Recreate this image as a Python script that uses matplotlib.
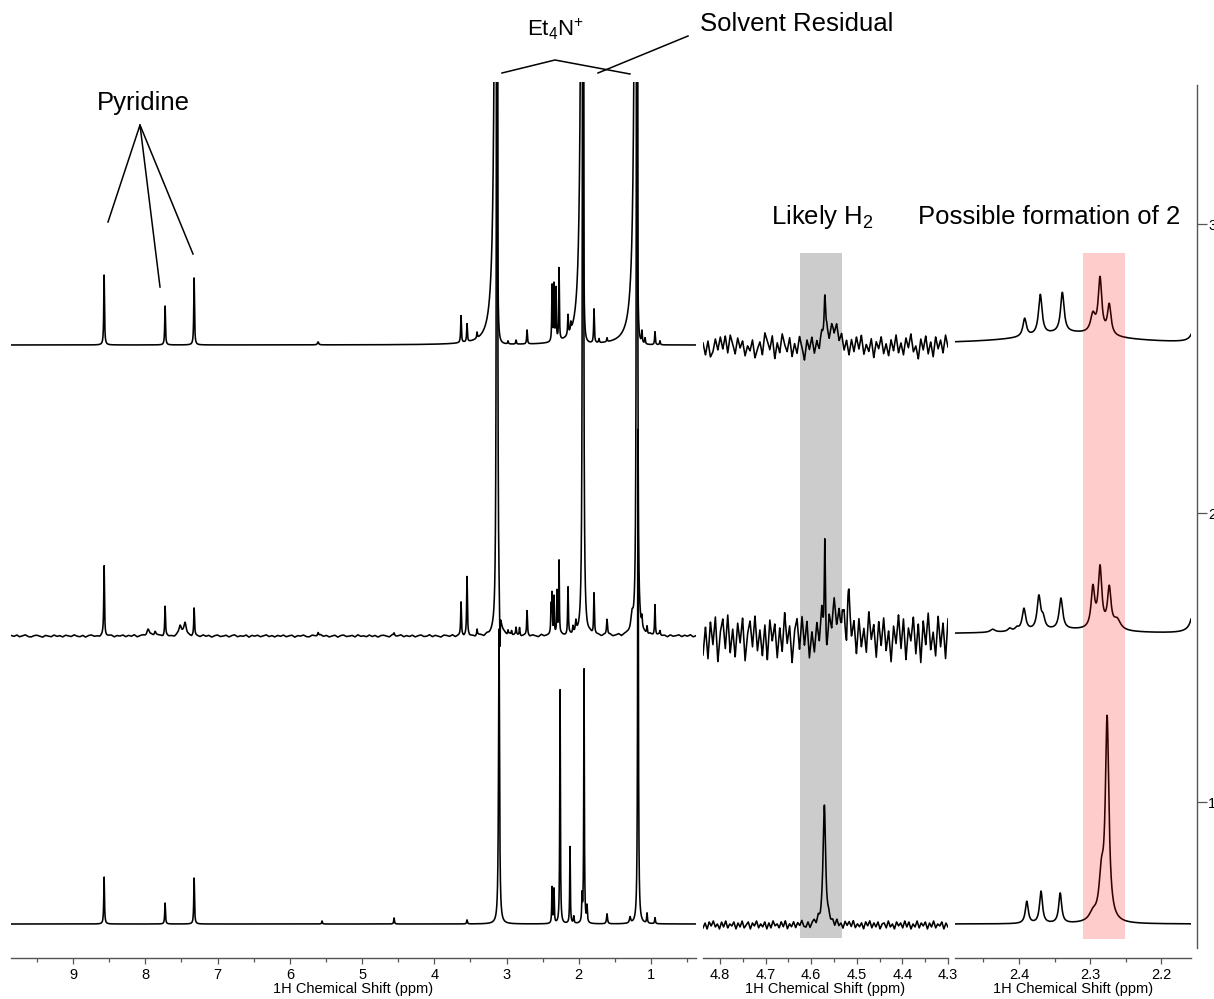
import numpy as np
import matplotlib
matplotlib.use('Agg')
import matplotlib.pyplot as plt
from matplotlib.lines import Line2D
from matplotlib.ticker import MultipleLocator, FormatStrFormatter

plt.rcParams['font.family'] = ['Liberation Sans', 'DejaVu Sans']
plt.rcParams['mathtext.fontset'] = 'custom'
plt.rcParams['mathtext.rm'] = 'Liberation Sans'
plt.rcParams['mathtext.it'] = 'Liberation Sans:italic'
plt.rcParams['mathtext.bf'] = 'Liberation Sans:bold'

# ------------------------------------------------------------------ data
# Peak lists: position (ppm), height (px above the
# trace baseline), half width at half maximum (ppm).

# Panel 1 : full spectrum, top trace (left/high-ppm wings are broader)
full_top_ppm = [8.571, 7.727, 7.325, 5.609, 3.630, 3.547, 3.408, 3.132, 2.979, 2.868,
                2.716, 2.370, 2.343, 2.315, 2.273, 2.149, 2.110, 1.941, 1.789, 1.720,
                1.609, 1.194, 1.125, 1.083, 0.945, 0.876]
full_top_height = [70, 39, 67, 3, 27, 18, 6, 6000, 3, 4,
                   14, 56, 56, 52, 72, 20, 8, 6000, 34, 4,
                   4, 6000, 12, 6, 13, 4]
full_top_hwhm_right = [0.006, 0.006, 0.006, 0.01, 0.006, 0.006, 0.006, 0.0015, 0.006, 0.006,
                       0.006, 0.005, 0.005, 0.005, 0.005, 0.006, 0.006, 0.0015, 0.006, 0.006,
                       0.006, 0.0015, 0.006, 0.006, 0.006, 0.006]
full_top_hwhm_left = [0.006, 0.006, 0.006, 0.01, 0.006, 0.006, 0.006, 0.0092, 0.006, 0.006,
                      0.006, 0.005, 0.005, 0.005, 0.005, 0.006, 0.006, 0.0084, 0.006, 0.006,
                      0.006, 0.0095, 0.006, 0.006, 0.006, 0.006]

# Panel 1 : middle trace
full_mid_ppm = [8.571, 7.962, 7.865, 7.727, 7.519, 7.450, 7.325, 5.609, 4.557, 3.630,
                3.547, 3.408, 3.132, 3.090, 2.979, 2.930, 2.868, 2.820, 2.716, 2.384,
                2.370, 2.343, 2.301, 2.273, 2.149, 2.080, 2.040, 1.941, 1.789, 1.609,
                1.263, 1.194, 1.125, 1.055, 0.945, 0.876]
full_mid_height = [70, 7, 5, 29, 10, 13, 27, 4, 3, 33,
                   58, 6, 3000, -40, 4, 4, 7, 8, 24, 28,
                   40, 38, 43, 74, 48, 8, 10, 3000, 41, 16,
                   16, 3000, 10, 8, 31, 4]
full_mid_hwhm = [0.006, 0.02, 0.015, 0.006, 0.02, 0.02, 0.006, 0.01, 0.01, 0.006,
                 0.006, 0.006, 0.0042, 0.003, 0.006, 0.006, 0.006, 0.006, 0.006, 0.005,
                 0.005, 0.005, 0.005, 0.005, 0.006, 0.008, 0.008, 0.0042, 0.006, 0.008,
                 0.02, 0.0042, 0.006, 0.006, 0.006, 0.006]
full_mid_noise = [
    0.6, -0.4, 1.0, -0.8, 0.2, 1.2, -0.6, -1.0, 0.4, 0.8, -0.2, -1.2, 0.6, 0.0, -0.8, 1.0, -0.4, 0.4, -1.0, 0.8,
    0.2, -0.6, 1.2, -0.2, -0.8, 0.6, -1.2, 0.4, 1.0, -0.4, 0.0, -0.8, 1.2, -0.6, 0.2, 0.8, -1.0, 0.4, -0.2, 1.0,
    -0.8, 0.6, -0.4, 1.2, -1.0, 0.2, 0.8, -0.6, -0.2, 1.0, -1.2, 0.4, 0.6, -0.8, 1.0, -0.4, 0.0, -1.0, 0.8, -0.2,
    1.2, -0.6, 0.4, -1.0, 0.8, 0.0, -0.8, 1.0, -0.4, 0.6, -1.2, 0.2, 1.0, -0.6, -0.2, 0.8, -1.0, 0.4, 1.2, -0.8,
    0.2, -0.4, 1.0, -1.2, 0.6, -0.2, 0.8, -0.8, 0.0, 1.2, -0.6, 0.4, -1.0, 0.6, -0.4, 1.0, -0.8, 0.2, 0.8, -1.2,
    0.4, -0.2, 1.0, -0.6, -1.0, 0.8, 0.2, -0.8, 1.2, -0.4, 0.6, -1.0, 0.0, 0.8, -1.2, 0.4, 1.0, -0.6, -0.2, 0.6,
    -1.0, 1.2, -0.4, 0.2, -0.8, 1.0, -0.6, 0.6, -1.2, 0.4, 0.8, -0.2, -1.0, 1.0, -0.4, 0.0, 1.2, -0.8, 0.4, -0.6,
    0.8, -1.0, 0.2, 1.0, -0.6, -0.4, 1.2, -0.8, 0.6, -0.2, -1.2, 0.8, 0.4, -0.6, 1.0, -1.0, 0.2, 0.6, -0.8, 1.2,
    -0.4, 0.0, -1.0, 0.8, 0.4, -1.2, 1.0, -0.2, 0.6, -0.8, 1.2, -0.6, 0.2, -1.0, 0.8, -0.4, 1.0, 0.0, -0.8, 0.4,
    1.0, -0.8, 0.6, -0.2, -1.2, 1.2, -0.4, 0.2, 0.8, -1.0, 0.4, -0.6, 1.0, -0.2, -0.8, 0.6, -1.2, 1.0, 0.0, -0.4,
    0.8, -1.0, 1.2, -0.6, 0.2, 0.4, -1.0, 0.6, -0.2, 1.0, -0.8, 0.0, 1.2, -1.2, 0.4, 0.8, -0.6, -0.2, 1.0, -0.8,
    0.2, 0.6, -1.0, 1.0, -0.4, -0.8, 1.2, -0.2, 0.4, -1.2, 0.8, -0.6, 0.0, 1.0, -0.8, 0.6, -0.4, 1.2, -1.0, 0.2]

# Panel 1 : bottom trace
full_bot_ppm = [8.571, 7.727, 7.325, 5.554, 4.557, 3.547, 3.104, 2.370, 2.343, 2.259,
                2.121, 2.070, 1.955, 1.927, 1.886, 1.609, 1.290, 1.180, 1.055, 0.945]
full_bot_height = [47, 21, 46, 3, 6, 4, 295, 36, 34, 234,
                   77, 7, 25, 254, 16, 10, 6, 495, 10, 6]
full_bot_hwhm = [0.006, 0.006, 0.006, 0.006, 0.006, 0.006, 0.008, 0.005, 0.005, 0.005,
                 0.005, 0.006, 0.005, 0.005, 0.006, 0.008, 0.01, 0.006, 0.006, 0.006]

# Panel 2 : 4.3 - 4.84 ppm (H2 region)
h2_top_ppm = [4.580, 4.570, 4.553]
h2_top_height = [8, 45, 20]
h2_top_hwhm = [0.004, 0.002, 0.012]
h2_top_noise = [3, -9, 5, -11, -6, 7, -4, 9, -3, 10, -7, 11, 2, -8, 8, -2, 5, -10, 0, -5,
                6, -12, -3, 4, -9, 13, 5, -4, 10, -13, 3, -7, 12, 1, -6, 8, -11, 2, -8, 9,
                -2, -15, 5, -5, 7, -10, 1, -13, 4, -4, 6, -9, 2, -6, 9, -3, 7, -8, 3, -11,
                5, -7, 8, -4, 10, -9, 1, -6, 7, -12, 4, -3, 9, -8, 2, -10, 6, -5, 11, -7,
                3, -9, 8, -2, 12, -6, 0, -13, 7, -4, 10, -8, 4, -11, 9, -3, 6, -7, 11, -1]

h2_mid_ppm = [4.570, 4.551, 4.532, 4.519]
h2_mid_height = [115, 22, 30, 35]
h2_mid_hwhm = [0.0015, 0.010, 0.003, 0.003]
h2_mid_noise = [-18, 10, -22, 15, -8, 20, -25, 5, 18, -12, 22, -16, 8, -20, 14, -6, 19, -24, 3, 16,
                -10, 21, -14, 7, -19, 12, -23, 17, -4, 13, -21, 9, -15, 24, -7, 11, -26, 6, 18, -13,
                20, -9, 15, -22, 4, -17, 12, -8, 23, -20, -28, 8, -12, 16, -5, 14, -18, 10, -24, 21,
                -6, 13, -19, 17, -11, 8, -16, 25, -3, 12, -21, 15, -9, 19, -14, 6, -25, 11, -7, 22,
                -12, 18, -23, 9, -4, 20, -17, 13, -26, 16, -8, 24, -13, 5, -19, 21, -10, 14, -22, 18]

h2_bot_ppm = [4.571]
h2_bot_height = [118]
h2_bot_hwhm = [0.0035]
h2_bot_noise = [-3, 2, -4, 3, -1, 4, -2, 1, -4, 3, -2, 4, -3, 1, -1, 3, -4, 2, -2, 4,
                -3, 0, 3, -4, 2, -1, 4, -3, 1, -2, 3, -4, 2, -3, 4, -1, 1, -3, 3, -2,
                4, -4, 1, -2, 3, -3, 2, -1, 4, -2, -3, 2, -4, 1, 3, -2, 4, -3, 0, 2,
                -4, 3, -1, 2, -3, 4, -2, 1, -4, 3, -1, 3, -2, 4, -3, 1, -2, 2, -4, 3,
                -1, 4, -3, 2, -2, 3, -4, 1, 2, -3, 4, -2, 1, -4, 3, -1, 2, -3, 4, -2,
                3, -4, 1, -2, 4, -3, 2, -1, 3, -4, 2, -2, 4, -3, 1, -1, 3, -4, 2, -2]

# Panel 3 : 2.16 - 2.49 ppm
z_top_ppm = [2.392, 2.370, 2.339, 2.296, 2.286, 2.273, 2.330, 2.149]
z_top_height = [18, 40, 40, 18, 55, 30, 11, 160]
z_top_hwhm = [0.003, 0.003, 0.003, 0.004, 0.003, 0.003, 0.08, 0.002]

z_mid_ppm = [2.437, 2.413, 2.403, 2.393, 2.372, 2.366, 2.341, 2.296, 2.286, 2.273, 2.262, 2.330, 2.149]
z_mid_height = [3, 3, 3, 22, 33, 10, 31, 40, 60, 40, 10, 4, 300]
z_mid_hwhm = [0.004, 0.003, 0.003, 0.003, 0.003, 0.003, 0.003, 0.003, 0.003, 0.003, 0.006, 0.08, 0.002]

z_bot_ppm = [2.389, 2.369, 2.342, 2.296, 2.284, 2.276]
z_bot_height = [22, 32, 30, 8, 40, 200]
z_bot_hwhm = [0.0025, 0.0025, 0.0025, 0.006, 0.004, 0.003]

# highlighted regions (ppm)
h2_band = (4.625, 4.532)
product_band = (2.310, 2.251)

# axis ranges and ticks
full_range = (9.86, 0.377)
h2_range = (4.837, 4.300)
z_range = (2.490, 2.158)
stack_ticks = [1, 2, 3]

# ------------------------------------------------------------------ helpers
W, H = 1214, 999


def lineshape(x, pos, hgt, wl, wr=None):
    if wr is None:
        wr = wl
    y = np.zeros_like(x)
    for p, h, a, b in zip(pos, hgt, wl, wr):
        d = x - p
        w = np.where(d > 0, a, b)
        y += h / (1.0 + (d / w) ** 2)
    return y


def noise_on(x, rng, vals):
    nx = np.linspace(rng[0], rng[1], len(vals))
    return np.interp(x, nx[::-1], np.asarray(vals, float)[::-1])


def fbox(x0, y0, x1, y1):
    return [x0 / W, 1 - y1 / H, (x1 - x0) / W, (y1 - y0) / H]


def fx(x):
    return x / W


def fy(y):
    return 1 - y / H


fig = plt.figure(figsize=(W / 100, H / 100), dpi=100)

ax1 = fig.add_axes(fbox(11, 82, 696, 958))
ax2 = fig.add_axes(fbox(703, 82, 948, 958))
ax3 = fig.add_axes(fbox(955, 82, 1191, 958))

axis_col = '#555555'
for ax, rng in ((ax1, full_range), (ax2, h2_range), (ax3, z_range)):
    ax.set_xlim(*rng)
    ax.set_ylim(958, 82)
    ax.patch.set_visible(False)
    for s in ('top', 'left', 'right'):
        ax.spines[s].set_visible(False)
    ax.spines['bottom'].set_color(axis_col)
    ax.spines['bottom'].set_linewidth(1.0)
    ax.set_yticks([])
    ax.tick_params(axis='x', which='major', direction='out', length=4.5, width=0.9,
                   color=axis_col, labelsize=10.5, pad=2.5)
    ax.tick_params(axis='x', which='minor', direction='out', length=3, width=0.9,
                   color=axis_col)
    ax.set_xlabel('1H Chemical Shift (ppm)', fontsize=10.5, labelpad=0.5)

ax1.xaxis.set_major_locator(MultipleLocator(1))
ax1.xaxis.set_minor_locator(MultipleLocator(0.5))
ax1.xaxis.set_major_formatter(FormatStrFormatter('%d'))
for ax in (ax2, ax3):
    ax.xaxis.set_major_locator(MultipleLocator(0.1))
    ax.xaxis.set_minor_locator(MultipleLocator(0.05))
    ax.xaxis.set_major_formatter(FormatStrFormatter('%.1f'))

lw = 1.15
# ---- panel 1
x1 = np.linspace(full_range[0], full_range[1], 16000)
ax1.plot(x1, 345 - lineshape(x1, full_top_ppm, full_top_height,
                             full_top_hwhm_left, full_top_hwhm_right), color='black', lw=lw)
ax1.plot(x1, 636 - lineshape(x1, full_mid_ppm, full_mid_height, full_mid_hwhm)
         - noise_on(x1, full_range, full_mid_noise), color='black', lw=lw)
ax1.plot(x1, 924 - lineshape(x1, full_bot_ppm, full_bot_height, full_bot_hwhm),
         color='black', lw=lw)

# ---- panel 2
x2 = np.linspace(h2_range[0], h2_range[1], 4000)
ax2.plot(x2, 346 - lineshape(x2, h2_top_ppm, h2_top_height, h2_top_hwhm)
         - noise_on(x2, h2_range, h2_top_noise), color='black', lw=lw)
ax2.plot(x2, 637 - lineshape(x2, h2_mid_ppm, h2_mid_height, h2_mid_hwhm)
         - noise_on(x2, h2_range, h2_mid_noise), color='black', lw=lw)
ax2.plot(x2, 925 - lineshape(x2, h2_bot_ppm, h2_bot_height, h2_bot_hwhm)
         - noise_on(x2, h2_range, h2_bot_noise), color='black', lw=lw)
ax2.fill_between(list(h2_band), 938, 253, color='black', alpha=0.2, lw=0, zorder=3)

# ---- panel 3
x3 = np.linspace(z_range[0], z_range[1], 3000)
ax3.plot(x3, 344 - lineshape(x3, z_top_ppm, z_top_height, z_top_hwhm), color='black', lw=lw)
ax3.plot(x3, 634 - lineshape(x3, z_mid_ppm, z_mid_height, z_mid_hwhm), color='black', lw=lw)
ax3.plot(x3, 924 - lineshape(x3, z_bot_ppm, z_bot_height, z_bot_hwhm), color='black', lw=lw)
ax3.fill_between(list(product_band), 939, 253, color='red', alpha=0.2, lw=0, zorder=3)

# ---- stack scale on the right
axR = fig.add_axes(fbox(1185, 85, 1197, 948))
axR.patch.set_visible(False)
for s in ('top', 'left', 'bottom'):
    axR.spines[s].set_visible(False)
axR.spines['right'].set_color(axis_col)
axR.spines['right'].set_linewidth(1.0)
axR.set_xticks([])
axR.set_ylim(0.495, 3.481)
axR.yaxis.tick_right()
axR.set_yticks(stack_ticks)
axR.set_yticklabels([str(t) for t in stack_ticks])
axR.tick_params(axis='y', direction='out', length=7, width=0.9, color=axis_col,
                labelsize=10.5, pad=1)

# ---- annotations
fs = 18.5
fig.text(fx(143), fy(110), 'Pyridine', fontsize=fs, ha='center', va='baseline')
fig.text(fx(556), fy(36), r'Et$_4$N$^{+}$', fontsize=16, ha='center', va='baseline')
fig.text(fx(797), fy(31), 'Solvent Residual', fontsize=fs, ha='center', va='baseline')
fig.text(fx(822), fy(224), r'Likely H$_2$', fontsize=fs, ha='center', va='baseline')
fig.text(fx(1049), fy(224), 'Possible formation of 2', fontsize=fs, ha='center', va='baseline')


def fline(xs, ys):
    fig.add_artist(Line2D([fx(v) for v in xs], [fy(v) for v in ys],
                          transform=fig.transFigure, color='black', lw=1.1))


fline([108, 140, 160], [222, 125, 287])
fline([140, 193], [125, 254])
fline([502, 555, 630], [73, 60, 74])
fline([598, 688], [73, 36])

fig.savefig('out.png', dpi=100)
